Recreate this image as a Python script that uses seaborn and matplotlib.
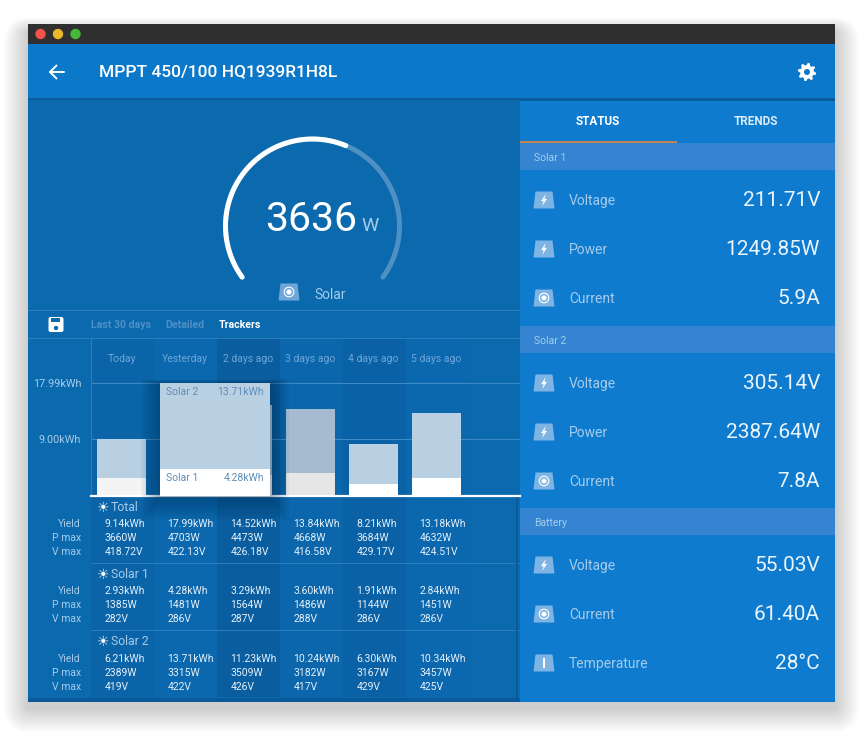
# MPPT tracker screen
import numpy as np
import matplotlib
matplotlib.use("Agg")
import matplotlib.pyplot as plt
from matplotlib.patches import Rectangle, Polygon, Circle, FancyBboxPatch
import seaborn as sns

sns.set_theme(style="white")
plt.rcParams["font.family"] = ["Roboto", "DejaVu Sans"]

# chart data
days = ["Today", "Yesterday", "2 days ago", "3 days ago", "4 days ago", "5 days ago"]
total_yield = [9.14, 17.99, 14.52, 13.84, 8.21, 13.18]
solar1_yield = [2.93, 4.28, 3.29, 3.60, 1.91, 2.84]
solar2_yield = [6.21, 13.71, 11.23, 10.24, 6.30, 10.34]
y_ticks = [9.00, 17.99]
y_tick_labels = ["9.00kWh", "17.99kWh"]

# table rows under the chart
total_pmax = [3660, 4703, 4473, 4668, 3684, 4632]
total_vmax = ["418.72", "422.13", "426.18", "416.58", "429.17", "424.51"]
solar1_pmax = [1385, 1481, 1564, 1486, 1144, 1451]
solar1_vmax = [282, 286, 287, 288, 286, 286]
solar2_pmax = [2389, 3315, 3509, 3182, 3167, 3457]
solar2_vmax = [419, 422, 426, 417, 429, 425]

# right panel
panel_sections = ["Solar 1", "Solar 2", "Battery"]
panel_labels = [["Voltage", "Power", "Current"], ["Voltage", "Power", "Current"],
                ["Voltage", "Current", "Temperature"]]
panel_values = [["211.71V", "1249.85W", "5.9A"], ["305.14V", "2387.64W", "7.8A"],
                ["55.03V", "61.40A", "28°C"]]

gauge_value = 3636
gauge_max = 6170

# colours
HEADER = "#0b78c9"
LEFT = "#0b69ae"
RIGHT = "#0e7bcf"
SECTION = "#3484d2"
SOFT = "#a5cbea"
ICON = "#7db4e4"

fig = plt.figure(figsize=(8.64, 7.39), dpi=100, facecolor="white")

# background axes in pixels
bg = fig.add_axes([0, 0, 1, 1], zorder=0)
bg.set_xlim(0, 864)
bg.set_ylim(739, 0)
bg.axis("off")


def box(x0, y0, x1, y1, color, **kw):
    bg.add_patch(Rectangle((x0, y0), x1 - x0, y1 - y0, facecolor=color, edgecolor="none", **kw))


def label(x, y, s, size=10, color="white", ha="left", **kw):
    bg.text(x, y + 0.7, s, fontsize=size, color=color, ha=ha, va="center", **kw)


def icon(x, y, kind, scale=1.0, color=ICON):
    w0, w1, h = 8.5 * scale, 10.5 * scale, 8.5 * scale
    bg.add_patch(Polygon([(x - w0, y - h), (x + w0, y - h), (x + w1, y + h), (x - w1, y + h)],
                         facecolor=color, edgecolor="none"))
    if kind == "bolt":
        s = scale * 1.2
        bg.add_patch(Polygon([(x + 1.5 * s, y - 5 * s), (x - 2.5 * s, y + 1 * s), (x - 0.3 * s, y + 1 * s),
                              (x - 1.5 * s, y + 5 * s), (x + 2.5 * s, y - 1 * s), (x + 0.3 * s, y - 1 * s)],
                             facecolor="white", edgecolor="none"))
    elif kind == "ring":
        bg.add_patch(Circle((x, y), 4.8 * scale, facecolor="none", edgecolor="white", lw=0.8))
        bg.add_patch(Circle((x, y), 2.6 * scale, facecolor="white", edgecolor="none"))
    elif kind == "temp":
        box(x - 1, y - 5, x + 1, y + 5, "white")


# window shadow
for pad in range(24, 0, -2):
    bg.add_patch(FancyBboxPatch((28 - pad, 32 - pad * 0.6), 807 + 2 * pad, 676 + 1.6 * pad,
                                boxstyle="round,pad=0,rounding_size=%d" % (pad + 2),
                                facecolor="black", edgecolor="none", alpha=0.014))

# window frame
box(28, 24, 835, 44, "#2f2f30")
for cx, col in zip([40.5, 58, 75.5], ["#f2524a", "#e9b82c", "#46b83a"]):
    bg.add_patch(Circle((cx, 34), 5.2, facecolor=col, edgecolor="none"))
box(28, 44, 835, 100, HEADER)
box(28, 98, 835, 101, "#0a5c9c")
box(28, 100, 520, 702, LEFT)
box(520, 101, 835, 702, RIGHT)

# header: back arrow and gear
bg.plot([50, 64], [72, 72], color="white", lw=1.4, solid_capstyle="round")
bg.plot([56.5, 50, 56.5], [65.5, 72, 78.5], color="white", lw=1.4, solid_capstyle="round",
        solid_joinstyle="round")
label(99, 71, "MPPT 450/100 HQ1939R1H8L", size=12.5, weight="medium")
gear_a = np.linspace(0, 2 * np.pi, 33)[:-1] + np.pi / 32
gear_r = np.where(np.arange(32) % 4 < 2, 9.2, 6.8)
bg.add_patch(Polygon(np.c_[807 + gear_r * np.cos(gear_a), 72 + gear_r * np.sin(gear_a)],
                     facecolor="white", edgecolor="none"))
bg.add_patch(Circle((807, 72), 3, facecolor=HEADER, edgecolor="none"))

# gauge
cx, cy, r = 312.5, 226, 87
start, sweep = np.radians(216), np.radians(252)
a_all = np.linspace(start, start - sweep, 200)
a_val = np.linspace(start, start - sweep * gauge_value / gauge_max, 200)
bg.plot(cx + r * np.cos(a_all), cy - r * np.sin(a_all), color="#4f90c4", lw=3.6, solid_capstyle="round")
bg.plot(cx + r * np.cos(a_val), cy - r * np.sin(a_val), color="white", lw=3.6, solid_capstyle="round")
label(311, 219, str(gauge_value), size=29.5, ha="center")
label(370, 225, "W", size=14, ha="center", color=SOFT)
icon(289, 292, "ring", scale=1.0, color="#6fa6d8")
label(314, 294, "Solar", size=10, color=SOFT)

# tab strip of the chart
box(28, 310, 520, 311, "#2b7dbd")
box(28, 338, 520, 339, "#2b7dbd")
bg.add_patch(FancyBboxPatch((48.5, 317), 15, 15, boxstyle="round,pad=0,rounding_size=2",
                            facecolor="white", edgecolor="none"))
box(51, 318, 60, 322, LEFT)
bg.add_patch(Circle((56, 328), 2.2, facecolor=LEFT, edgecolor="none"))
label(91, 324, "Last 30 days", size=7.6, color="#4f90c4", weight="bold")
label(165, 324, "Detailed", size=7.6, color="#4f90c4", weight="bold")
label(219, 324, "Trackers", size=7.6, color="white", weight="bold")

# column shading behind chart and table
col_shades = ["#0b64a8", "#0b68ae", "#0a5e9f", "#0b66ab", "#0b61a5", "#0b68af"]
for i, shade in enumerate(col_shades):
    box(91 + 63 * i, 339, 154 + 63 * i, 697, shade)

# table
table_rows = [
    ("Total", total_yield, total_pmax, total_vmax, 507, 523),
    ("Solar 1", solar1_yield, solar1_pmax, solar1_vmax, 574, 590),
    ("Solar 2", solar2_yield, solar2_pmax, solar2_vmax, 641, 658),
]
for name, yields, pmax, vmax, y_head, y_row in table_rows:
    label(103, y_head, "☀", size=10, color="white", ha="center", family="DejaVu Sans")
    label(111, y_head, name, size=8.8, color=SOFT)
    for j, row_name in enumerate(["Yield", "P max", "V max"]):
        label(81, y_row + 14 * j, row_name, size=7.5, color=SOFT, ha="right")
    for i in range(len(days)):
        x = 104.5 + 63 * i
        label(x, y_row, "%.2fkWh" % yields[i], size=7.5, color="#e4f0f9")
        label(x, y_row + 14, "%dW" % pmax[i], size=7.5, color="#e4f0f9")
        label(x, y_row + 28, "%sV" % vmax[i], size=7.5, color="#e4f0f9")
box(91, 563, 520, 564, "#2b7dbd")
box(91, 630, 520, 631, "#2b7dbd")
box(28, 698, 520, 702, "#0a5a9a")
box(516, 496, 518, 698, "#0a5a9a")

# right panel
label(598, 121, "STATUS", size=8.5, ha="center", weight="bold")
label(756, 121, "TRENDS", size=8.5, ha="center", weight="bold", color="#dcecf8")
box(520, 141, 677, 143, "#c08555")
section_tops = [143, 326, 508]
for top, name, labels, values in zip(section_tops, panel_sections, panel_labels, panel_values):
    box(520, top, 835, top + 27, SECTION)
    label(534, top + 14, name, size=7.5, color=SOFT)
    for k, (lab, val) in enumerate(zip(labels, values)):
        y = top + 57 + 49 * k
        kind = "temp" if lab == "Temperature" else "ring" if lab == "Current" else "bolt"
        icon(544, y, kind)
        label(569, y, lab, size=10, color=SOFT)
        label(820, y, val, size=15, ha="right", color="#eaf4fb")

# bar chart axes, baseline at y=496, 6.28 px per kWh
ax = fig.add_axes([91 / 864, 1 - 496 / 739, 429 / 864, 158 / 739], zorder=1)
ax.patch.set_alpha(0)
upper_cols = ["#b9d0e3", "#b9d0e3", "#b9d0e3", "#a7bbd0", "#b9d0e3", "#b9d0e3"]
lower_cols = ["#f4f4f4", "white", "white", "#e6e6e6", "white", "white"]
sns.barplot(x=days, y=total_yield, hue=days, palette=upper_cols, legend=False, width=0.78,
            saturation=1, ax=ax, zorder=2, linewidth=0, edgecolor="none")
sns.barplot(x=days, y=solar1_yield, hue=days, palette=lower_cols, legend=False, width=0.78,
            saturation=1, ax=ax, zorder=2.1, linewidth=0, edgecolor="none")
ax.set_xlim(-0.487, 6.323)
ax.set_ylim(0, 158 / 6.28)
ax.set_xlabel("")
ax.set_ylabel("")
ax.set_yticks(y_ticks)
ax.set_yticklabels(y_tick_labels)
ax.yaxis.grid(True, color="#3c8ac6", lw=0.8)
ax.xaxis.grid(False)
ax.set_axisbelow(True)
ax.tick_params(axis="y", length=0, pad=7, labelsize=7.8, labelcolor=SOFT)
ax.tick_params(axis="x", length=0, pad=-19, top=False, bottom=False, labeltop=True, labelbottom=False,
               labelsize=7.5, labelcolor="#6fa6d8")
for side in ["top", "right"]:
    ax.spines[side].set_visible(False)
ax.spines["left"].set_color("#2b7dbd")
ax.spines["left"].set_linewidth(0.8)
ax.spines["bottom"].set_color("white")
ax.spines["bottom"].set_linewidth(1.6)

# tooltip card over Yesterday and 2 days ago
tip = 1
tip_left, tip_right = tip - 0.39, tip + 1 + 0.36
tip_w = tip_right - tip_left
for pad in np.arange(0.30, 0.01, -0.03):
    ax.add_patch(Rectangle((tip_left - pad, -pad * 12.7), tip_w + 2 * pad, total_yield[tip] + pad * 14.7,
                           facecolor="#03223f", edgecolor="none", alpha=0.04, zorder=3, clip_on=False))
ax.add_patch(Rectangle((tip_left, 0), tip_w, total_yield[tip], facecolor="#b9d0e3", edgecolor="none", zorder=4))
ax.add_patch(Rectangle((tip_left, 0), tip_w, solar1_yield[tip], facecolor="white", edgecolor="none", zorder=4.1))
tip_text = "#5f8db5"
ax.text(tip_left + 0.1, total_yield[tip] - 1.4, "Solar 2", fontsize=7.5, color=tip_text, va="center", zorder=5)
ax.text(tip_right - 0.1, total_yield[tip] - 1.4, "%.2fkWh" % solar2_yield[tip], fontsize=7.5, color=tip_text,
        ha="right", va="center", zorder=5)
ax.text(tip_left + 0.1, solar1_yield[tip] - 1.4, "Solar 1", fontsize=7.5, color=tip_text, va="center", zorder=5)
ax.text(tip_right - 0.1, solar1_yield[tip] - 1.4, "%.2fkWh" % solar1_yield[tip], fontsize=7.5, color=tip_text,
        ha="right", va="center", zorder=5)

fig.savefig("out.png", dpi=100)
